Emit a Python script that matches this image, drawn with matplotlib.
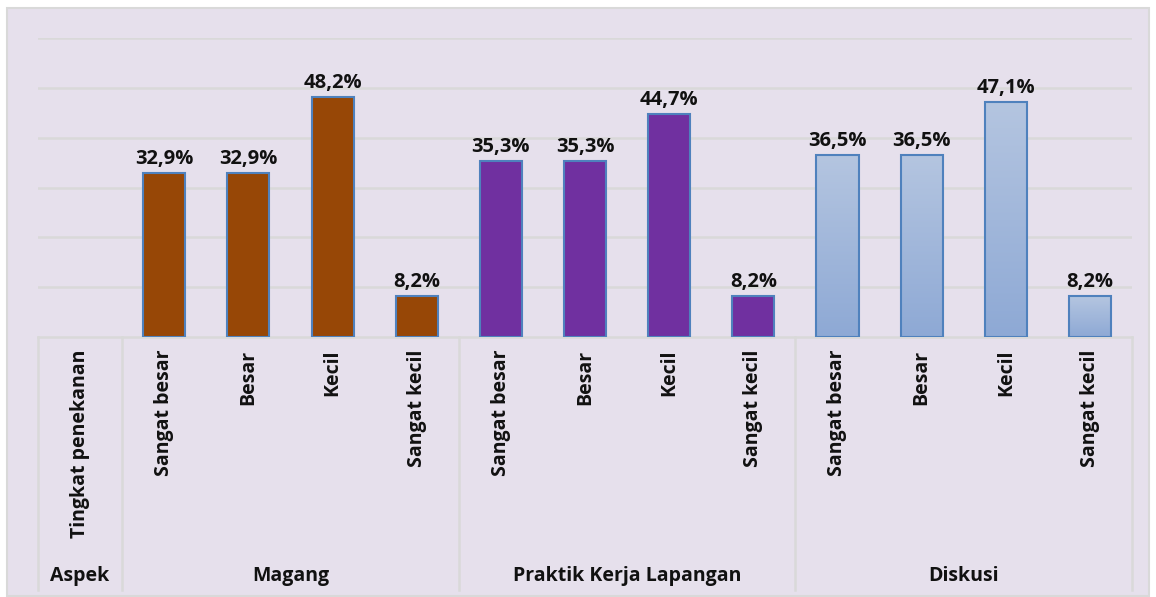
import matplotlib.pyplot as plt
import numpy as np
from matplotlib.colors import LinearSegmentedColormap
from matplotlib.patches import Rectangle
from matplotlib.transforms import blended_transform_factory

ASPECTS = ["Magang", "Praktik Kerja Lapangan", "Diskusi"]
LEVELS = ["Sangat besar", "Besar", "Kecil", "Sangat kecil"]
MAGANG = [32.9, 32.9, 48.2, 8.2]
PKL = [35.3, 35.3, 44.7, 8.2]
DISKUSI = [36.5, 36.5, 47.1, 8.2]

BG = "#E6E0EC"
GRID = "#D9D9D9"
EDGE = "#4F81BD"
TXT = "#111111"

plt.rcParams["font.family"] = ["Open Sans", "DejaVu Sans"]

W, H = 1156, 597
fig = plt.figure(figsize=(W / 100, H / 100), dpi=100, facecolor="white")

# chart area with light border
fig.patches.append(Rectangle((7 / W, 1 - 596 / H), 1142 / W, 588 / H,
                             transform=fig.transFigure, facecolor=BG,
                             edgecolor=GRID, linewidth=1.5, zorder=-10))

left, right, top, base = 38, 1132, 38, 337
ax = fig.add_axes([left / W, 1 - base / H, (right - left) / W, (base - top) / H])
ax.set_facecolor("none")
for s in ax.spines.values():
    s.set_visible(False)
ax.set_xticks([])
ax.set_yticks([])
for g in range(10, 61, 10):
    ax.axhline(g, color=GRID, linewidth=1.8, zorder=0)

series = [MAGANG, PKL, DISKUSI]
fills = ["#974706", "#7030A0", None]
cmap = LinearSegmentedColormap.from_list("blu", ["#8EA9D5", "#B4C5E0"])

for gi, (vals, fc) in enumerate(zip(series, fills)):
    xs = np.arange(4) + 1 + gi * 4
    if fc is not None:
        ax.bar(xs, vals, width=0.5, color=fc, edgecolor=EDGE, linewidth=1.5, zorder=2)
    else:
        bars = ax.bar(xs, vals, width=0.5, color="none", edgecolor=EDGE,
                      linewidth=1.5, zorder=3)
        for b in bars:
            x0, w, h = b.get_x(), b.get_width(), b.get_height()
            im = ax.imshow(np.linspace(0, 1, 100).reshape(-1, 1), cmap=cmap,
                           extent=[x0, x0 + w, 0, h], origin="lower",
                           aspect="auto", zorder=2)
            im.set_clip_path(b)
    for x, v in zip(xs, vals):
        ax.annotate(f"{v:.1f}%".replace(".", ","), (x, v), xytext=(0, 3),
                    textcoords="offset points", ha="center", va="bottom",
                    fontsize=14.5, fontweight="bold", color=TXT)

# imshow resets the limits
ax.set_xlim(-0.5, 12.5)
ax.set_ylim(0, 60)

trans = blended_transform_factory(ax.transData, ax.transAxes)
bottom_y = (base - 590) / (base - top)
label_y = (base - 350) / (base - top)
group_y = (base - 576) / (base - top)

ax.plot([-0.5, 12.5], [0, 0], transform=trans, color=GRID, linewidth=1.8,
        clip_on=False, zorder=1)
for sx in [-0.5, 0.5, 4.5, 8.5, 12.5]:
    ax.plot([sx, sx], [0, bottom_y], transform=trans, color=GRID,
            linewidth=1.8, clip_on=False)

ax.text(0, label_y, "Tingkat penekanan", transform=trans, rotation=90,
        ha="center", va="top", fontsize=14, fontweight="bold", color=TXT)
ax.text(0, group_y, "Aspek", transform=trans, ha="center", va="center",
        fontsize=14, fontweight="bold", color=TXT)
for gi, name in enumerate(ASPECTS):
    for li, lev in enumerate(LEVELS):
        ax.text(1 + gi * 4 + li, label_y, lev, transform=trans, rotation=90,
                ha="center", va="top", fontsize=14, fontweight="bold",
                color=TXT)
    ax.text(2.5 + gi * 4, group_y, name, transform=trans, ha="center",
            va="center", fontsize=14, fontweight="bold", color=TXT)

fig.savefig("out.png", dpi=100, facecolor="white")
